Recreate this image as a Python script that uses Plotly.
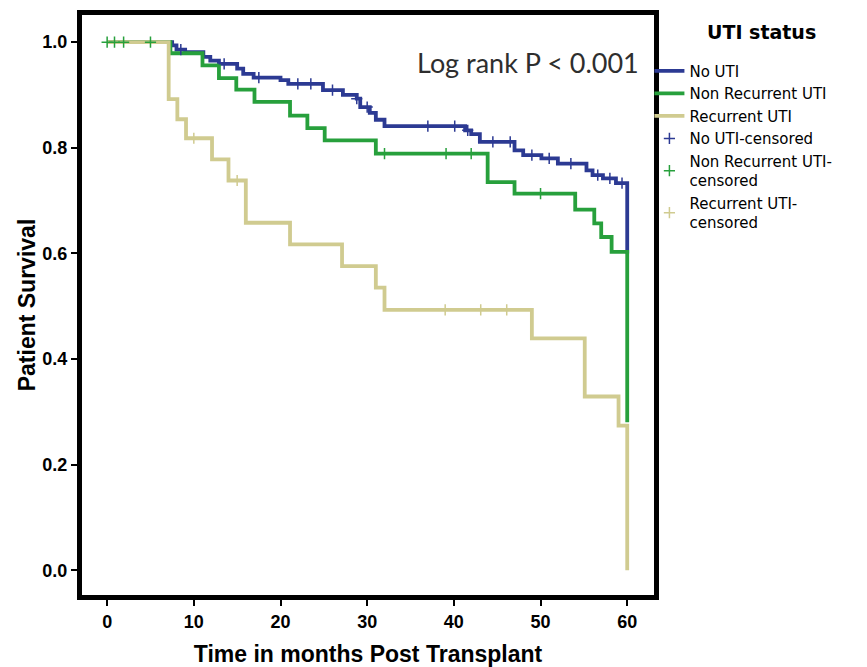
import plotly.graph_objects as go
import bisect

# ---- data ----
no_uti_t = [0, 7.5, 8.0, 9.0, 11.1, 11.9, 12.9, 15.0, 15.7, 16.9, 20.0, 20.9, 24.9, 27.2, 28.8,
            29.2, 30.3, 31.0, 32.0, 41.3, 42.0, 43.0, 47.0, 48.0, 50.1, 52.0, 55.3, 56.0, 57.2,
            58.7, 60.0]
no_uti_s = [1.0, 0.994, 0.986, 0.981, 0.972, 0.965, 0.959, 0.950, 0.940, 0.933, 0.928, 0.921,
            0.909, 0.900, 0.893, 0.877, 0.866, 0.853, 0.841, 0.833, 0.826, 0.811, 0.795, 0.786,
            0.780, 0.770, 0.757, 0.748, 0.742, 0.733, 0.600]

nonrec_t = [0, 7.3, 11.0, 12.9, 14.9, 17.0, 21.1, 23.1, 25.1, 31.0, 43.9, 47.0, 54.0, 56.2,
            57.0, 58.2, 60.0]
nonrec_s = [1.0, 0.979, 0.956, 0.932, 0.910, 0.887, 0.861, 0.837, 0.814, 0.789, 0.735, 0.713,
            0.683, 0.657, 0.631, 0.603, 0.280]

rec_t = [0, 7.1, 8.1, 9.1, 12.1, 14.0, 16.0, 21.1, 27.1, 31.0, 32.0, 49.0, 55.1, 59.0, 60.0]
rec_s = [1.0, 0.892, 0.854, 0.818, 0.778, 0.738, 0.658, 0.617, 0.576, 0.535, 0.493, 0.439,
         0.329, 0.274, 0.0]

no_uti_cens = [8.5, 13.5, 17.5, 22.0, 23.5, 26.0, 28.8, 30.0, 37.0, 40.1, 41.6, 44.5, 46.5,
               49.0, 51.0, 53.5, 56.6, 58.0, 59.4]
nonrec_cens = [0.0, 0.85, 1.9, 5.0, 32.0, 39.1, 42.0, 50.0]
rec_cens = [10.0, 15.0, 39.0, 43.1, 46.1]

x_ticks = [0, 10, 20, 30, 40, 50, 60]
y_ticks = [0.0, 0.2, 0.4, 0.6, 0.8, 1.0]

BLUE = "#2c3a93"
GREEN = "#27a03c"
TAN = "#d0cb90"


def surv_at(times, surv, t):
    i = bisect.bisect_right(times, t) - 1
    return surv[max(i, 0)]


fig = go.Figure()
groups = [
    ("No UTI", no_uti_t, no_uti_s, no_uti_cens, BLUE),
    ("Non Recurrent UTI", nonrec_t, nonrec_s, nonrec_cens, GREEN),
    ("Recurrent UTI", rec_t, rec_s, rec_cens, TAN),
]
for name, t, s, _, col in groups:
    fig.add_trace(go.Scatter(x=t, y=s, mode="lines", line=dict(shape="hv", color=col, width=3.8),
                             name=name, hoverinfo="skip"))

cens_names = ["No UTI-censored", "Non Recurrent UTI-<br>censored", "Recurrent UTI-<br>censored"]
for (name, t, s, c, col), cname in zip(groups, cens_names):
    fig.add_trace(go.Scatter(x=c, y=[surv_at(t, s, v) for v in c], mode="markers",
                             marker=dict(symbol="cross-thin", size=8, color=col,
                                         line=dict(color=col, width=1.5)),
                             name=cname, hoverinfo="skip"))

axis_common = dict(showline=True, linewidth=5, linecolor="black", mirror=True,
                   ticks="outside", ticklen=6, tickwidth=2, tickcolor="black",
                   showgrid=False, zeroline=False, automargin=False,
                   tickfont=dict(family="Liberation Sans", size=18, color="black", weight="bold"))

fig.update_xaxes(range=[-2.9, 63.09], tickvals=x_ticks, ticktext=[str(v) for v in x_ticks],
                 title=dict(text="Time in months Post Transplant", standoff=20,
                            font=dict(family="Liberation Sans", size=23, color="black", weight="bold")),
                 **axis_common)
fig.update_yaxes(range=[-0.0469, 1.0514], tickvals=y_ticks, ticktext=[f"{v:.1f}" for v in y_ticks],
                 title=dict(text="Patient Survival", standoff=2,
                            font=dict(family="Liberation Sans", size=23, color="black", weight="bold")),
                 **axis_common)

fig.add_annotation(x=48.6, y=0.962, xref="x", yref="y", text="Log rank P < 0.001", showarrow=False,
                   font=dict(family="Lato", size=27, color="#2e2e2e"))

ML, MR, MT, MB = 81.5, 212.5, 14.5, 71.5
W, H = 867, 667
pw = W - ML - MR
ph = H - MT - MB

# legend heading
fig.add_annotation(x=(762 - ML) / pw, y=(H - 32 - MB) / ph, xref="paper", yref="paper",
                   xanchor="center", yanchor="middle", text="UTI status", showarrow=False,
                   font=dict(family="DejaVu Sans", size=19, color="black", weight="bold"))

fig.update_layout(
    width=W, height=H,
    margin=dict(l=ML, r=MR, t=MT, b=MB),
    paper_bgcolor="white", plot_bgcolor="white",
    legend=dict(x=0.992, y=0.9316, xanchor="left", yanchor="top",
                bgcolor="rgba(0,0,0,0)", tracegroupgap=0,
                font=dict(family="DejaVu Sans", size=15, color="black")),
    showlegend=True,
)

fig.write_html("out.html", config={"displayModeBar": False},
               post_script="document.body.style.margin='0px';")
